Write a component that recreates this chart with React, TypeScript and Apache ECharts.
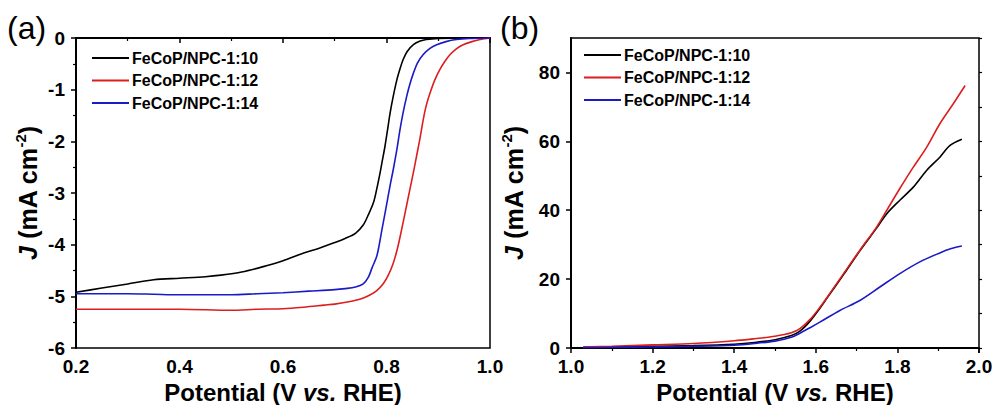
import React, { useEffect, useRef } from "react";
import * as echarts from "echarts";

const FONT = "'Liberation Sans', Arial, Helvetica, sans-serif";

const seriesNames = ["FeCoP/NPC-1:10", "FeCoP/NPC-1:12", "FeCoP/NPC-1:14"];
const seriesColors = ["#000000", "#dc1e1e", "#1a1ac8"];

// ---- panel (a): LSV, J (mA cm-2) vs potential (V vs. RHE)
const aPotential10 = [0.2, 0.25, 0.3, 0.35, 0.4, 0.45, 0.48, 0.52, 0.56, 0.6, 0.64, 0.67, 0.7, 0.72, 0.74, 0.755, 0.765, 0.775, 0.781, 0.787, 0.792, 0.797, 0.802, 0.807, 0.813, 0.82, 0.826, 0.832, 0.84, 0.852, 0.865, 0.877, 0.9, 0.95, 1.0];
const aCurrent10 = [-4.92, -4.84, -4.76, -4.68, -4.65, -4.62, -4.59, -4.53, -4.43, -4.31, -4.16, -4.07, -3.96, -3.88, -3.78, -3.62, -3.42, -3.18, -2.93, -2.64, -2.37, -2.1, -1.78, -1.45, -1.13, -0.81, -0.6, -0.42, -0.26, -0.13, -0.06, -0.03, -0.01, 0, 0];

const aPotential12 = [0.2, 0.3, 0.4, 0.5, 0.55, 0.6, 0.64, 0.68, 0.7, 0.73, 0.75, 0.765, 0.78, 0.794, 0.804, 0.813, 0.821, 0.829, 0.837, 0.845, 0.852, 0.858, 0.865, 0.871, 0.877, 0.884, 0.893, 0.903, 0.913, 0.923, 0.935, 0.948, 0.965, 0.981, 1.0];
const aCurrent12 = [-5.25, -5.25, -5.25, -5.27, -5.25, -5.24, -5.21, -5.17, -5.15, -5.1, -5.05, -4.99, -4.9, -4.75, -4.58, -4.36, -4.08, -3.72, -3.33, -2.94, -2.6, -2.29, -1.93, -1.58, -1.3, -1.07, -0.82, -0.61, -0.45, -0.32, -0.21, -0.13, -0.07, -0.03, 0];

const aPotential14 = [0.2, 0.25, 0.3, 0.35, 0.4, 0.45, 0.5, 0.55, 0.6, 0.65, 0.7, 0.72, 0.74, 0.755, 0.765, 0.772, 0.781, 0.786, 0.791, 0.797, 0.803, 0.808, 0.813, 0.82, 0.826, 0.832, 0.839, 0.845, 0.852, 0.86, 0.871, 0.884, 0.897, 0.915, 0.935, 0.96, 1.0];
const aCurrent14 = [-4.95, -4.95, -4.95, -4.96, -4.97, -4.97, -4.97, -4.95, -4.93, -4.9, -4.87, -4.85, -4.82, -4.76, -4.63, -4.45, -4.23, -4.0, -3.72, -3.4, -3.07, -2.8, -2.55, -2.16, -1.78, -1.45, -1.13, -0.9, -0.68, -0.48, -0.32, -0.2, -0.13, -0.07, -0.03, -0.01, 0];

const aXTicks = [0.2, 0.4, 0.6, 0.8, 1.0];
const aYTicks = [-6, -5, -4, -3, -2, -1, 0];

// ---- panel (b): LSV, J (mA cm-2) vs potential (V vs. RHE)
const bPotential10 = [1.03, 1.1, 1.2, 1.3, 1.4, 1.45, 1.5, 1.54, 1.561, 1.586, 1.61, 1.627, 1.668, 1.708, 1.749, 1.774, 1.806, 1.839, 1.872, 1.904, 1.929, 1.958];
const bCurrent10 = [0.2, 0.3, 0.5, 0.7, 1.1, 1.6, 2.4, 3.6, 4.9, 7.8, 11.5, 14.4, 21.3, 28.2, 34.8, 39.0, 42.9, 46.7, 51.6, 55.4, 58.8, 60.6];

const bPotential12 = [1.03, 1.1, 1.2, 1.3, 1.4, 1.45, 1.5, 1.54, 1.561, 1.586, 1.61, 1.627, 1.668, 1.708, 1.749, 1.774, 1.806, 1.839, 1.872, 1.904, 1.937, 1.966];
const bCurrent12 = [0.3, 0.5, 0.9, 1.3, 2.1, 2.7, 3.4, 4.4, 5.6, 8.3, 11.8, 14.6, 21.6, 28.4, 35.1, 40.0, 46.3, 52.5, 58.3, 65.1, 70.9, 76.2];

const bPotential14 = [1.03, 1.1, 1.2, 1.3, 1.4, 1.45, 1.5, 1.54, 1.561, 1.586, 1.61, 1.659, 1.708, 1.757, 1.806, 1.855, 1.904, 1.93, 1.958];
const bCurrent14 = [0.1, 0.2, 0.3, 0.5, 0.8, 1.3, 2.0, 3.1, 4.3, 5.9, 7.5, 10.9, 13.8, 17.7, 21.6, 25.0, 27.6, 28.8, 29.6];

const bXTicks = [1.0, 1.2, 1.4, 1.6, 1.8, 2.0];
const bYTicks = [0, 20, 40, 60, 80];
const bYMax = 90;

const panelLabels = ["(a)", "(b)"];
const xTitle = "{n|Potential (V }{i|vs.}{n| RHE)}";
const yTitle = "{j|J}{n| (mA cm}{s|-2}{n|)}";

const zip = (xs: number[], ys: number[]) => xs.map((x, i) => [x, ys[i]]);

const xTitleRich = {
  n: { fontFamily: FONT, fontWeight: "bold", fontSize: 24, color: "#000", lineHeight: 24 },
  i: { fontFamily: FONT, fontWeight: "bold", fontStyle: "italic", fontSize: 24, color: "#000", lineHeight: 24 },
};

const yTitleRich = {
  n: { fontFamily: FONT, fontWeight: "bold", fontSize: 25, color: "#000", lineHeight: 26 },
  j: { fontFamily: FONT, fontWeight: "bold", fontStyle: "italic", fontSize: 25, color: "#000", lineHeight: 30 },
  s: { fontFamily: FONT, fontWeight: "bold", fontSize: 15, color: "#000", verticalAlign: "top", lineHeight: 16 },
};

const axisLineStyle = { show: true, lineStyle: { color: "#000", width: 2 } };
const labelStyle = { color: "#000", fontFamily: FONT, fontWeight: "bold", fontSize: 19 };

export default function App() {
  const ref = useRef<HTMLDivElement>(null);
  useEffect(() => {
    if (!ref.current) return;
    const chart = echarts.init(ref.current, undefined, { renderer: "svg" });

    const xAxisCommon = (ticks: number[], grid: number) => ({
      type: "value",
      gridIndex: grid,
      min: ticks[0],
      max: ticks[ticks.length - 1],
      interval: ticks[1] - ticks[0],
      axisLine: axisLineStyle,
      axisTick: { show: true, length: 5, lineStyle: { color: "#000", width: 1.5 } },
      minorTick: { show: true, splitNumber: 2, length: 3, lineStyle: { color: "#000", width: 1.2 } },
      splitLine: { show: false },
      minorSplitLine: { show: false },
      axisLabel: { ...labelStyle, margin: 9, formatter: (v: number) => v.toFixed(1) },
      name: xTitle,
      nameLocation: "middle",
      nameGap: 29,
      nameTextStyle: { rich: xTitleRich },
    });

    const legendCommon = {
      orient: "vertical",
      padding: 0,
      itemWidth: 37,
      itemHeight: 2,
      itemGap: 6.5,
      icon: "rect",
      textStyle: { color: "#000", fontFamily: FONT, fontWeight: "bold", fontSize: 16, padding: [0, 0, 0, -2] },
      selectedMode: false,
    };

    const lineSeries = (name: string, color: string, data: number[][], idx: number) => ({
      type: "line",
      name,
      data,
      xAxisIndex: idx,
      yAxisIndex: idx,
      showSymbol: false,
      symbol: "none",
      smooth: 0.3,
      lineStyle: { color, width: 1.6 },
      itemStyle: { color },
      z: 3,
    });

    const gridCommon = {
      top: 38,
      height: 310,
      show: true,
      borderColor: "#000",
      borderWidth: 1.5,
      backgroundColor: "transparent",
      containLabel: false,
      outerBoundsMode: "none",
    };

    const option: any = {
      animation: false,
      backgroundColor: "#fff",
      textStyle: { fontFamily: FONT },
      grid: [
        { ...gridCommon, left: 76, width: 414 },
        { ...gridCommon, left: 571, width: 408 },
      ],
      legend: [
        {
          ...legendCommon,
          data: seriesNames.map((n) => ({ name: n })),
          left: 92,
          top: 50,
          formatter: (n: string) => n,
        },
        {
          ...legendCommon,
          data: seriesNames.map((n) => ({ name: n + " " })),
          left: 584,
          top: 47,
          formatter: (n: string) => n.trim(),
        },
      ],
      xAxis: [xAxisCommon(aXTicks, 0), xAxisCommon(bXTicks, 1)],
      yAxis: [
        {
          type: "value",
          gridIndex: 0,
          min: aYTicks[0],
          max: aYTicks[aYTicks.length - 1],
          interval: aYTicks[1] - aYTicks[0],
          axisLine: axisLineStyle,
          axisTick: { show: true, length: 5, lineStyle: { color: "#000", width: 1.5 } },
          minorTick: { show: true, splitNumber: 2, length: 3, lineStyle: { color: "#000", width: 1.2 } },
          splitLine: { show: false },
          axisLabel: { ...labelStyle, margin: 11, formatter: (v: number) => String(v) },
          name: yTitle,
          nameLocation: "middle",
          nameRotate: 90,
          nameGap: 33,
          nameTextStyle: { rich: yTitleRich },
        },
        {
          type: "value",
          gridIndex: 1,
          min: bYTicks[0],
          max: bYMax,
          interval: bYTicks[1] - bYTicks[0],
          axisLine: axisLineStyle,
          axisTick: { show: true, length: 5, lineStyle: { color: "#000", width: 1.5 } },
          splitLine: { show: false },
          axisLabel: { ...labelStyle, margin: 11, showMaxLabel: false, formatter: (v: number) => String(v) },
          name: yTitle,
          nameLocation: "middle",
          nameRotate: 90,
          nameGap: 42,
          nameTextStyle: { rich: yTitleRich },
        },
        {
          type: "value",
          gridIndex: 1,
          min: bYTicks[0],
          max: bYMax,
          interval: (bYTicks[1] - bYTicks[0]) / 2,
          axisLine: { show: false },
          axisTick: { show: true, length: 3, lineStyle: { color: "#000", width: 1.2 } },
          splitLine: { show: false },
          axisLabel: { show: false },
        },
      ],
      series: [
        lineSeries(seriesNames[0], seriesColors[0], zip(aPotential10, aCurrent10), 0),
        lineSeries(seriesNames[1], seriesColors[1], zip(aPotential12, aCurrent12), 0),
        lineSeries(seriesNames[2], seriesColors[2], zip(aPotential14, aCurrent14), 0),
        lineSeries(seriesNames[0] + " ", seriesColors[0], zip(bPotential10, bCurrent10), 1),
        lineSeries(seriesNames[1] + " ", seriesColors[1], zip(bPotential12, bCurrent12), 1),
        lineSeries(seriesNames[2] + " ", seriesColors[2], zip(bPotential14, bCurrent14), 1),
      ],
      graphic: [
        { type: "text", left: 7, top: 12, style: { text: panelLabels[0], fontFamily: FONT, fontSize: 32, fill: "#000" } },
        { type: "text", left: 500, top: 12, style: { text: panelLabels[1], fontFamily: FONT, fontSize: 32, fill: "#000" } },
      ],
    };
    chart.setOption(option);
    return () => chart.dispose();
  }, []);
  return <div ref={ref} style={{ position: "fixed", left: 0, top: 0, width: 995, height: 405, background: "#fff" }} />;
}
